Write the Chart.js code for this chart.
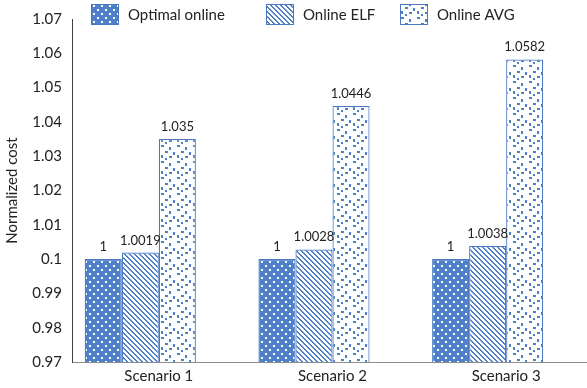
<!DOCTYPE html>
<html>
<head>
<meta charset="utf-8">
<script src="https://cdn.jsdelivr.net/npm/chart.js@4.4.1/dist/chart.umd.min.js"></script>
<style>
  html, body { margin: 0; padding: 0; background: #fff; overflow: hidden; }
  #wrap { width: 600px; height: 388px; }
</style>
</head>
<body>
<div id="wrap"><canvas id="costChart" width="600" height="388"></canvas></div>
<script>
const scenarios = ["Scenario 1", "Scenario 2", "Scenario 3"];
const optimalOnline = [1, 1, 1];
const onlineElf = [1.0019, 1.0028, 1.0038];
const onlineAvg = [1.035, 1.0446, 1.0582];
const seriesNames = ["Optimal online", "Online ELF", "Online AVG"];
const yTickValues = [0.97, 0.98, 0.99, 1, 1.01, 1.02, 1.03, 1.04, 1.05, 1.06, 1.07];
const yTickLabels = ["0.97", "0.98", "0.99", "0.1", "1.01", "1.02", "1.03", "1.04", "1.05", "1.06", "1.07"];

const BLUE = "#4f7fc6";
const EDGE = "#4a78c2";
const TEXT = "#222222";
const FONT = "Lato, 'Open Sans', sans-serif";

const canvas = document.getElementById("costChart");
const ctx = canvas.getContext("2d");

function makePattern(size, paint) {
  const tile = document.createElement("canvas");
  tile.width = size;
  tile.height = size;
  const g = tile.getContext("2d");
  paint(g, size);
  return ctx.createPattern(tile, "repeat");
}

// blue ground with white dots in a staggered grid
const gridDots = makePattern(8, (g, n) => {
  g.fillStyle = BLUE;
  g.fillRect(0, 0, n, n);
  g.fillStyle = "#fff";
  g.fillRect(1, 1, 2, 2);
  g.fillRect(5, 5, 2, 2);
});

// downward diagonal stripes
const diagStripes = makePattern(5, (g, n) => {
  g.fillStyle = "#fff";
  g.fillRect(0, 0, n, n);
  g.fillStyle = BLUE;
  for (let i = 0; i < n; i++) {
    g.fillRect(i, i, 1, 1);
    g.fillRect((i + 1) % n, i, 1, 1);
  }
});

// scattered confetti squares
const confetti = makePattern(16, (g, n) => {
  g.fillStyle = "#fff";
  g.fillRect(0, 0, n, n);
  g.fillStyle = BLUE;
  [[1, 1, 3, 2], [9, 3, 2, 3], [5, 7, 3, 2], [13, 8, 2, 3], [1, 11, 2, 3], [9, 12, 3, 2], [5, 14, 2, 2]].forEach(([x, y, w, h]) => {
    g.fillRect(x, y, w, h);
  });
});

const fills = [gridDots, diagStripes, confetti];

// value labels above each bar
const barLabels = {
  id: "barLabels",
  afterDatasetsDraw(chart) {
    const c = chart.ctx;
    c.save();
    c.font = "13px " + FONT;
    c.fillStyle = TEXT;
    c.textAlign = "center";
    c.textBaseline = "alphabetic";
    chart.data.datasets.forEach((ds, di) => {
      if (!ds.label) return;
      chart.getDatasetMeta(di).data.forEach((bar, i) => {
        c.fillText(String(ds.data[i]), bar.x, bar.y - 8);
      });
    });
    c.restore();
  }
};

// legend laid over the top of the plot
const overlayLegend = {
  id: "overlayLegend",
  afterDraw(chart) {
    const c = chart.ctx;
    const boxes = [91, 266, 400];
    c.save();
    c.font = "15px " + FONT;
    c.textBaseline = "middle";
    seriesNames.forEach((name, i) => {
      const x = boxes[i];
      c.fillStyle = fills[i];
      c.fillRect(x, 4, 28, 21);
      c.strokeStyle = EDGE;
      c.lineWidth = 1;
      c.strokeRect(x + 0.5, 4.5, 27, 20);
      c.fillStyle = TEXT;
      c.fillText(name, x + 37, 15);
    });
    c.restore();
  }
};

new Chart(canvas, {
  type: "bar",
  data: {
    labels: scenarios,
    datasets: [
      { label: seriesNames[0], data: optimalOnline },
      { label: seriesNames[1], data: onlineElf },
      { label: seriesNames[2], data: onlineAvg },
      { label: "", data: [null, null, null] }
    ].map((ds, i) => Object.assign(ds, {
      backgroundColor: fills[i] || "transparent",
      borderColor: EDGE,
      borderWidth: 1.2,
      borderSkipped: false,
      categoryPercentage: 0.853,
      barPercentage: 1
    }))
  },
  options: {
    responsive: false,
    animation: false,
    layout: { padding: { top: 15, right: 7, left: 0, bottom: 0 } },
    plugins: {
      legend: { display: false },
      tooltip: { enabled: false }
    },
    scales: {
      x: {
        grid: { display: true, drawOnChartArea: false, drawTicks: false },
        border: { display: true, color: "#8c8c8c", width: 1 },
        ticks: { color: TEXT, font: { family: FONT, size: 15 }, padding: 5 },
        afterFit: (scale) => { scale.height = 26; }
      },
      y: {
        min: 0.97,
        max: 1.07,
        grid: { display: true, drawOnChartArea: false, drawTicks: false },
        border: { display: true, color: "#404040", width: 1 },
        afterBuildTicks: (scale) => { scale.ticks = yTickValues.map((v) => ({ value: v })); },
        ticks: {
          color: TEXT,
          font: { family: FONT, size: 15 },
          padding: 10,
          callback: (value, index) => yTickLabels[index]
        },
        title: {
          display: true,
          text: "Normalized cost",
          color: TEXT,
          font: { family: FONT, size: 15 },
          padding: { top: 3, bottom: 0 }
        },
        afterFit: (scale) => { scale.width = 72; }
      }
    }
  },
  plugins: [barLabels, overlayLegend]
});
</script>
</body>
</html>
